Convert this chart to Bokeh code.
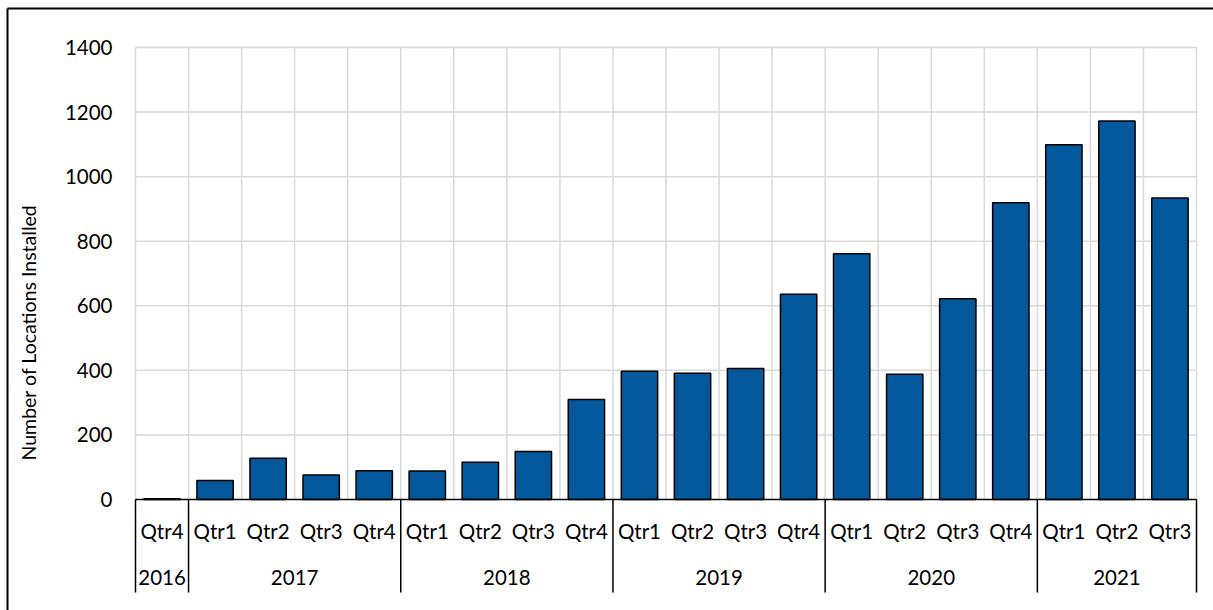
import math
from bokeh.plotting import figure
from bokeh.models import Range1d, ColumnDataSource
from bokeh.core.properties import value
from bokeh.embed import file_html
from bokeh.resources import INLINE

# ---- data ----
years = ["2016", "2017", "2018", "2019", "2020", "2021"]
year_quarters = [
    ["Qtr4"],
    ["Qtr1", "Qtr2", "Qtr3", "Qtr4"],
    ["Qtr1", "Qtr2", "Qtr3", "Qtr4"],
    ["Qtr1", "Qtr2", "Qtr3", "Qtr4"],
    ["Qtr1", "Qtr2", "Qtr3", "Qtr4"],
    ["Qtr1", "Qtr2", "Qtr3"],
]
values = [2,
          59, 128, 76, 89,
          88, 115, 149, 310,
          397, 391, 406, 636,
          761, 388, 622, 919,
          1099, 1172, 934]
y_ticks = [0, 200, 400, 600, 800, 1000, 1200, 1400]
y_tick_labels = [str(t) for t in y_ticks]
y_title = "Number of Locations Installed"

# ---- derived ----
quarters = [q for qs in year_quarters for q in qs]
n = len(quarters)
x_centers = [i + 0.5 for i in range(n)]
bounds = [0]
for qs in year_quarters:
    bounds.append(bounds[-1] + len(qs))
year_centers = [(bounds[i] + bounds[i + 1]) / 2 for i in range(len(years))]

# ---- layout (pixels on the page) ----
W, H = 1213, 610
FONT = "Lato"
FS = "20.5px"
y_max = y_ticks[-1]
px_top, px_zero, px_bottom = 47, 499, 592
px_left, px_right = 135, 1196
ppu = (px_zero - px_top) / y_max          # pixels per y unit
ppx = (px_right - px_left) / n            # pixels per category


def dx(px):  # page x pixel -> data x
    return (px - px_left) / ppx


def dy(py):  # page y pixel -> data y
    return (px_zero - py) / ppu


p = figure(width=W, height=H,
           x_range=Range1d(dx(0), dx(W)), y_range=Range1d(dy(H), dy(0)),
           output_backend="svg", toolbar_location=None,
           x_axis_location=None, y_axis_location=None,
           min_border=0, min_border_left=0, min_border_right=0,
           min_border_top=0, min_border_bottom=0)
p.xgrid.visible = False
p.ygrid.visible = False
p.outline_line_color = None
p.background_fill_color = "white"
p.border_fill_color = "white"

grid_col = "#d9d9d9"
# horizontal gridlines
hy = [t for t in y_ticks if t != 0]
p.segment(x0=[0] * len(hy), x1=[n] * len(hy), y0=hy, y1=hy,
          line_color=grid_col, line_width=1.5)
# vertical gridlines at category boundaries
vx = list(range(n + 1))
p.segment(x0=vx, x1=vx, y0=[0] * len(vx), y1=[y_max] * len(vx),
          line_color=grid_col, line_width=1.5)

# bars
src = ColumnDataSource(dict(x=x_centers, top=values))
p.vbar(x="x", top="top", bottom=0, width=0.685, source=src,
       fill_color="#03599C", line_color="#000000", line_width=1.5)

# category axis line and group separators
p.segment(x0=[0], x1=[n], y0=[0], y1=[0], line_color="#000000", line_width=1.5)
p.segment(x0=bounds, x1=bounds, y0=[0] * len(bounds),
          y1=[dy(px_bottom)] * len(bounds),
          line_color="#000000", line_width=1.5)

# category labels
p.text(x=x_centers, y=[dy(530)] * n, text=quarters, text_font=value(FONT),
       text_font_size=FS, text_align="center", text_baseline="middle",
       text_color="#000000")
p.text(x=year_centers, y=[dy(577)] * len(years), text=years, text_font=value(FONT),
       text_font_size=FS, text_align="center", text_baseline="middle",
       text_color="#000000")

# value axis labels
p.text(x=[dx(112)] * len(y_ticks), y=y_ticks, text=y_tick_labels,
       text_font=value(FONT), text_font_size=FS, text_align="right",
       text_baseline="middle", text_color="#000000")

# value axis title
p.text(x=[dx(28)], y=[dy(332)], text=[y_title], angle=math.pi / 2,
       text_font=value(FONT), text_font_size="19.5px", text_align="center",
       text_baseline="middle", text_color="#000000")

# chart border (top and left edges; right/bottom lie outside the picture)
p.segment(x0=[dx(7), dx(7)], x1=[dx(W + 5), dx(7)],
          y0=[dy(8), dy(8)], y1=[dy(8), dy(H + 5)],
          line_color="#000000", line_width=2)

open("out.html", "w").write(file_html(p, INLINE))
